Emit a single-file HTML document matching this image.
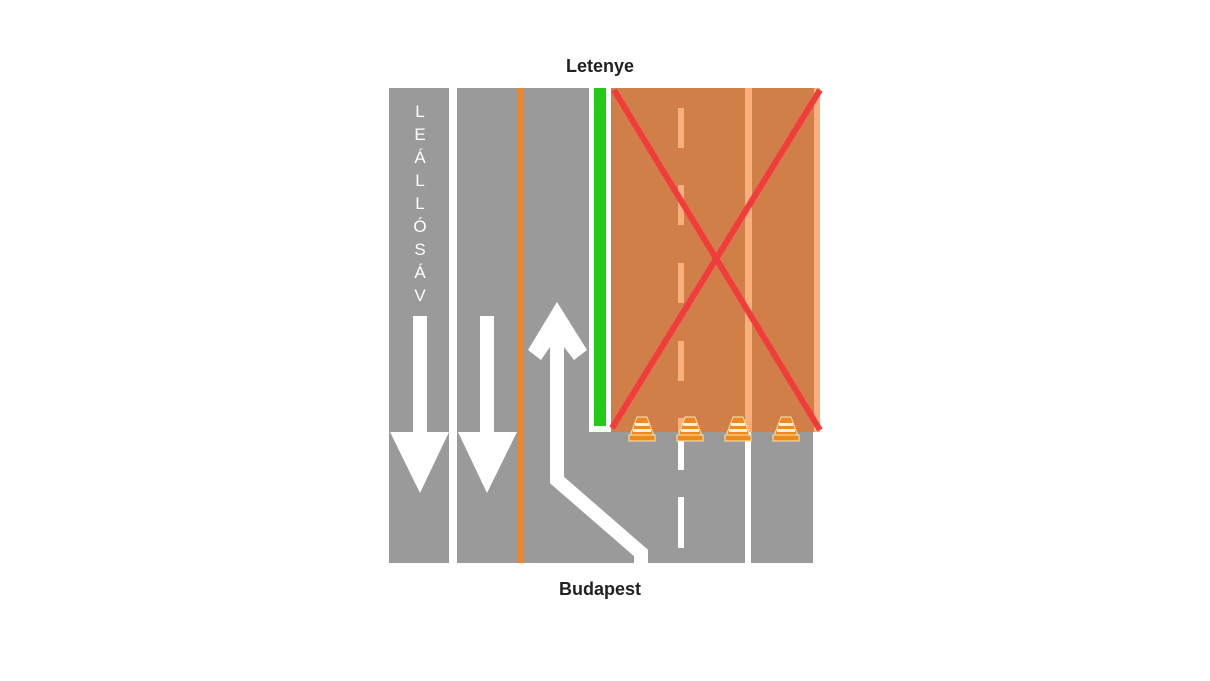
<!DOCTYPE html>
<html><head><meta charset="utf-8"><style>
body{margin:0;background:#fff;width:1210px;height:681px;overflow:hidden}
svg{display:block}
</style></head><body>
<svg width="1210" height="681" viewBox="0 0 1210 681">
<rect width="1210" height="681" fill="#fff"/>
<text x="600" y="72" font-family="Liberation Sans, sans-serif" font-size="18" font-weight="bold" text-anchor="middle" fill="#222">Letenye</text>
<text x="600" y="595" font-family="Liberation Sans, sans-serif" font-size="18" font-weight="bold" text-anchor="middle" fill="#222">Budapest</text>
<rect x="389" y="88" width="60" height="475" fill="#9a9a9a"/>
<rect x="457" y="88" width="356" height="475" fill="#9a9a9a"/>
<rect x="517" y="88" width="7" height="475" fill="#f0852a"/>
<rect x="745" y="432" width="6" height="131" fill="#fff"/>
<rect x="678" y="440" width="6" height="30" fill="#fff"/>
<rect x="678" y="497" width="6" height="51" fill="#fff"/>
<rect x="589" y="88" width="22" height="344" fill="#fff"/>
<rect x="594" y="88" width="12" height="338" fill="#22cc14"/>
<rect x="611" y="88" width="209" height="344" fill="#d07f48"/>
<rect x="745" y="88" width="7" height="344" fill="#f7b07c"/>
<rect x="814" y="88" width="6" height="344" fill="#f7b07c"/>
<g fill="#f7b07c"><rect x="678" y="108" width="6" height="40"/><rect x="678" y="185" width="6" height="40"/><rect x="678" y="263" width="6" height="40"/><rect x="678" y="341" width="6" height="40"/><rect x="678" y="418" width="6" height="14"/></g>
<g stroke="#f23c3c" stroke-width="6"><line x1="612" y1="428" x2="820" y2="90"/><line x1="614" y1="90" x2="820" y2="430"/></g>
<g font-family="Liberation Sans, sans-serif" font-size="17" fill="#fff" text-anchor="middle">
<text x="420" y="117">L</text><text x="420" y="140">E</text><text x="420" y="163">Á</text><text x="420" y="186">L</text><text x="420" y="209">L</text><text x="420" y="232">Ó</text><text x="420" y="255">S</text><text x="420" y="278">Á</text><text x="420" y="301">V</text>
</g>
<g fill="#fff">
<rect x="413" y="316" width="14" height="120"/><polygon points="390,432 449,432 420,493"/>
<rect x="480" y="316" width="14" height="120"/><polygon points="458,432 517,432 487,493"/>
<polygon points="557,302 587,350 574,360 564,347 564,362 550,362 550,347 541,360 528,350"/>
</g>
<polyline points="557,350 557,480 641,553 641,563" fill="none" stroke="#fff" stroke-width="14" stroke-linejoin="miter"/>
<g id="cones">
<g transform="translate(642,0)"><polygon points="-5,417 5,417 12,436 -12,436" fill="#f08a1e" stroke="#ffe2b0" stroke-width="1"/><rect x="-13" y="435" width="26" height="6" fill="#f08a1e" stroke="#ffe2b0" stroke-width="1"/><rect x="-7" y="423" width="14" height="3" fill="#fff0d8"/><rect x="-9" y="429" width="18" height="3" fill="#fff0d8"/></g>
<g transform="translate(690,0)"><polygon points="-5,417 5,417 12,436 -12,436" fill="#f08a1e" stroke="#ffe2b0" stroke-width="1"/><rect x="-13" y="435" width="26" height="6" fill="#f08a1e" stroke="#ffe2b0" stroke-width="1"/><rect x="-7" y="423" width="14" height="3" fill="#fff0d8"/><rect x="-9" y="429" width="18" height="3" fill="#fff0d8"/></g>
<g transform="translate(738,0)"><polygon points="-5,417 5,417 12,436 -12,436" fill="#f08a1e" stroke="#ffe2b0" stroke-width="1"/><rect x="-13" y="435" width="26" height="6" fill="#f08a1e" stroke="#ffe2b0" stroke-width="1"/><rect x="-7" y="423" width="14" height="3" fill="#fff0d8"/><rect x="-9" y="429" width="18" height="3" fill="#fff0d8"/></g>
<g transform="translate(786,0)"><polygon points="-5,417 5,417 12,436 -12,436" fill="#f08a1e" stroke="#ffe2b0" stroke-width="1"/><rect x="-13" y="435" width="26" height="6" fill="#f08a1e" stroke="#ffe2b0" stroke-width="1"/><rect x="-7" y="423" width="14" height="3" fill="#fff0d8"/><rect x="-9" y="429" width="18" height="3" fill="#fff0d8"/></g>
</g>
</svg>
</body></html>
